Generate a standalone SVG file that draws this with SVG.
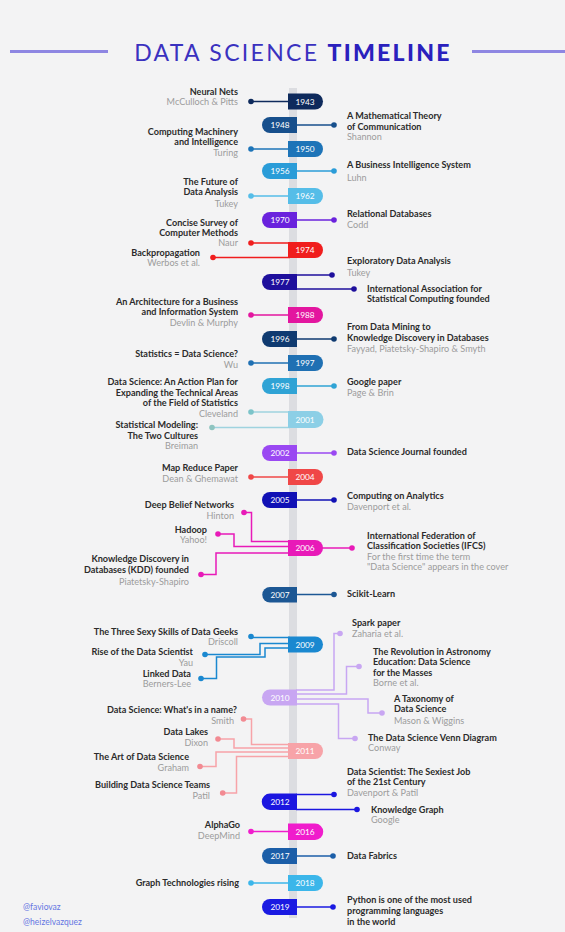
<svg xmlns="http://www.w3.org/2000/svg" width="565" height="932" viewBox="0 0 565 932">
<style>
.bg{fill:#f3f3f4}
.t{font-family:Lato,"Liberation Sans",sans-serif;font-weight:700;font-size:9.1px;fill:#2b2b2b}
.s{font-family:Lato,"Liberation Sans",sans-serif;font-size:9.1px;fill:#9c9c9c}
.l{text-anchor:end}
.y{font-family:Lato,"Liberation Sans",sans-serif;font-size:8.3px;fill:#ffffff;text-anchor:middle}
.c{fill:none;stroke-width:1.5}
.h{font-family:Lato,"Liberation Sans",sans-serif;font-size:8.5px;fill:#6576e2}
</style>
<rect class="bg" x="0" y="0" width="565" height="932"/>
<g id="title">
<line x1="10" y1="51.5" x2="108" y2="51.5" stroke="#8e86e2" stroke-width="3"/>
<line x1="472" y1="51.5" x2="565" y2="51.5" stroke="#8e86e2" stroke-width="3"/>
<text x="293" y="60.5" text-anchor="middle" font-family="Lato,'Liberation Sans',sans-serif" font-size="23" fill="#3a31bf" letter-spacing="2.3"><tspan>DATA SCIENCE </tspan><tspan font-weight="900" fill="#2a20bd">TIMELINE</tspan></text>
</g>
<line id="axis" x1="293" y1="88" x2="293" y2="918" stroke="#dcdde1" stroke-width="8"/>
<g id="connectors">
<path class="c" stroke="#0e2a5c" d="M251,101.5H290"/><circle cx="251" cy="101.5" r="2.8" fill="#0e2a5c"/>
<path class="c" stroke="#174f8c" d="M296,125H334"/><circle cx="334" cy="125" r="2.8" fill="#174f8c"/>
<path class="c" stroke="#1d74b8" d="M251,149H290"/><circle cx="251" cy="149" r="2.8" fill="#1d74b8"/>
<path class="c" stroke="#2a9cd8" d="M296,171H334"/><circle cx="334" cy="171" r="2.8" fill="#2a9cd8"/>
<path class="c" stroke="#55bde8" d="M251,196H290"/><circle cx="251" cy="196" r="2.8" fill="#55bde8"/>
<path class="c" stroke="#6a22dd" d="M296,220H334"/><circle cx="334" cy="220" r="2.8" fill="#6a22dd"/>
<path class="c" stroke="#f01d1d" d="M251,243H290"/><circle cx="251" cy="243" r="2.8" fill="#f01d1d"/>
<path class="c" stroke="#f01d1d" d="M213,257.5H290"/><circle cx="213" cy="257.5" r="2.8" fill="#f01d1d"/>
<path class="c" stroke="#1e0f9c" d="M296,275H332"/><circle cx="332" cy="275" r="2.8" fill="#1e0f9c"/>
<path class="c" stroke="#1e0f9c" d="M296,289H354"/><circle cx="354" cy="289" r="2.8" fill="#1e0f9c"/>
<path class="c" stroke="#e3169f" d="M251,315H290"/><circle cx="251" cy="315" r="2.8" fill="#e3169f"/>
<path class="c" stroke="#0f3a70" d="M296,339H334"/><circle cx="334" cy="339" r="2.8" fill="#0f3a70"/>
<path class="c" stroke="#1f70b3" d="M251,363H290"/><circle cx="251" cy="363" r="2.8" fill="#1f70b3"/>
<path class="c" stroke="#2fa3d5" d="M296,386H334"/><circle cx="334" cy="386" r="2.8" fill="#2fa3d5"/>
<path class="c" stroke="#9fd3df" d="M251,412H290"/><circle cx="251" cy="412" r="2.8" fill="#7cc4c9"/>
<path class="c" stroke="#9fd3df" d="M212,427.5H290"/><circle cx="212" cy="427.5" r="2.8" fill="#8fc4c0"/>
<path class="c" stroke="#9a48f2" d="M296,453H334"/><circle cx="334" cy="453" r="2.8" fill="#9a48f2"/>
<path class="c" stroke="#f04747" d="M251,477H290"/><circle cx="251" cy="477" r="2.8" fill="#f04747"/>
<path class="c" stroke="#1111b5" d="M296,500H334"/><circle cx="334" cy="500" r="2.8" fill="#1111b5"/>
<path class="c" stroke="#e81ab8" d="M244,512.5H251.5V541.5H290"/><circle cx="244" cy="512.5" r="2.8" fill="#e81ab8"/>
<path class="c" stroke="#e81ab8" d="M218,534H234V546.5H290"/><circle cx="218" cy="534" r="2.8" fill="#e81ab8"/>
<path class="c" stroke="#e81ab8" d="M201,574.5H216V553H290"/><circle cx="201" cy="574.5" r="2.8" fill="#e81ab8"/>
<path class="c" stroke="#e81ab8" d="M320,548H352"/><circle cx="352" cy="548" r="2.8" fill="#e81ab8"/>
<path class="c" stroke="#1c5794" d="M296,594.5H334"/><circle cx="334" cy="594.5" r="2.8" fill="#1c5794"/>
<path class="c" stroke="#1a88d0" d="M251,637.5H290"/><circle cx="251" cy="636.5" r="2.8" fill="#1a88d0"/>
<path class="c" stroke="#1a88d0" d="M205,654.5H260V643.5H290"/><circle cx="205" cy="654.5" r="2.8" fill="#1a88d0"/>
<path class="c" stroke="#1a88d0" d="M201,678.5H216.5V657H265V648H290"/><circle cx="201" cy="678.5" r="2.8" fill="#1a88d0"/>
<path class="c" stroke="#c8a6f2" d="M296,690H334V633.5H340"/><circle cx="340" cy="633.5" r="2.8" fill="#c8a6f2"/>
<path class="c" stroke="#c8a6f2" d="M296,694H346.5V666.5H359"/><circle cx="359" cy="666.5" r="2.8" fill="#c8a6f2"/>
<path class="c" stroke="#c8a6f2" d="M296,699H368V713H382"/><circle cx="382" cy="713" r="2.8" fill="#c8a6f2"/>
<path class="c" stroke="#c8a6f2" d="M296,704H338.5V738.5H355"/><circle cx="355" cy="738.5" r="2.8" fill="#c8a6f2"/>
<path class="c" stroke="#f7a3a8" d="M243.5,719H251.5V744.5H290"/><circle cx="243.5" cy="719" r="2.8" fill="#f28a92"/>
<path class="c" stroke="#f7a3a8" d="M218,739H234V748H290"/><circle cx="218" cy="739" r="2.8" fill="#f28a92"/>
<path class="c" stroke="#f7a3a8" d="M200,766.5H216V752H290"/><circle cx="200" cy="766.5" r="2.8" fill="#f28a92"/>
<path class="c" stroke="#f7a3a8" d="M222.7,793H236.5V756.5H290"/><circle cx="222.7" cy="793" r="2.8" fill="#f28a92"/>
<path class="c" stroke="#1b16e0" d="M296,794.5H334"/><circle cx="334" cy="794.5" r="2.8" fill="#1b16e0"/>
<path class="c" stroke="#1b16e0" d="M296,809.5H357"/><circle cx="357" cy="809.5" r="2.8" fill="#1b16e0"/>
<path class="c" stroke="#f01ccc" d="M251,831.5H290"/><circle cx="251" cy="831.5" r="2.8" fill="#f01ccc"/>
<path class="c" stroke="#1b5ea8" d="M296,856H333"/><circle cx="333" cy="856" r="2.8" fill="#1b5ea8"/>
<path class="c" stroke="#3bb6ea" d="M251,883H290"/><circle cx="251" cy="883" r="2.8" fill="#3bb6ea"/>
<path class="c" stroke="#1a1ae2" d="M296,907H333"/><circle cx="333" cy="907" r="2.8" fill="#1a1ae2"/>
</g>
<g id="n1943"><path fill="#0e2a5c" d="M288,93.5h27a8,8 0 0 1 0,16h-27z"/><text class="y" x="305" y="104.5">1943</text>
<text class="t l" x="238" y="95">Neural Nets</text><text class="s l" x="238" y="105">McCulloch &amp; Pitts</text></g>
<g id="n1948"><path fill="#174f8c" d="M297,117h-27a8,8 0 0 0 0,16h27z"/><text class="y" x="280" y="128">1948</text>
<text class="t" x="347" y="119">A Mathematical Theory</text><text class="t" x="347" y="129.5">of Communication</text><text class="s" x="347" y="139.5">Shannon</text></g>
<g id="n1950"><path fill="#1d74b8" d="M288,141h27a8,8 0 0 1 0,16h-27z"/><text class="y" x="305" y="152">1950</text>
<text class="t l" x="238" y="134.5">Computing Machinery</text><text class="t l" x="238" y="145">and Intelligence</text><text class="s l" x="238" y="156">Turing</text></g>
<g id="n1956"><path fill="#2a9cd8" d="M297,163h-27a8,8 0 0 0 0,16h27z"/><text class="y" x="280" y="174">1956</text>
<text class="t" x="347" y="168">A Business Intelligence System</text><text class="s" x="347" y="180.5">Luhn</text></g>
<g id="n1962"><path fill="#55bde8" d="M288,188h27a8,8 0 0 1 0,16h-27z"/><text class="y" x="305" y="199">1962</text>
<text class="t l" x="238" y="184.5">The Future of</text><text class="t l" x="238" y="195">Data Analysis</text><text class="s l" x="238" y="207">Tukey</text></g>
<g id="n1970"><path fill="#6a22dd" d="M297,212h-27a8,8 0 0 0 0,16h27z"/><text class="y" x="280" y="223">1970</text>
<text class="t" x="347" y="217">Relational Databases</text><text class="s" x="347" y="228">Codd</text></g>
<g id="n1974"><path fill="#f01d1d" d="M288,242h27a8,8 0 0 1 0,16h-27z"/><text class="y" x="305" y="253">1974</text>
<text class="t l" x="238" y="226">Concise Survey of</text><text class="t l" x="238" y="236">Computer Methods</text><text class="s l" x="238" y="246">Naur</text>
<text class="t l" x="200" y="255.5">Backpropagation</text><text class="s l" x="200" y="266">Werbos et al.</text></g>
<g id="n1977"><path fill="#1e0f9c" d="M297,274h-27a8,8 0 0 0 0,16h27z"/><text class="y" x="280" y="285">1977</text>
<text class="t" x="347" y="263.5">Exploratory Data Analysis</text><text class="s" x="347" y="275.5">Tukey</text>
<text class="t" x="367" y="292">International Association for</text><text class="t" x="367" y="302">Statistical Computing founded</text></g>
<g id="n1988"><path fill="#e3169f" d="M288,307h27a8,8 0 0 1 0,16h-27z"/><text class="y" x="305" y="318">1988</text>
<text class="t l" x="238" y="304.5">An Architecture for a Business</text><text class="t l" x="238" y="315">and Information System</text><text class="s l" x="238" y="326">Devlin &amp; Murphy</text></g>
<g id="n1996"><path fill="#0f3a70" d="M297,331h-27a8,8 0 0 0 0,16h27z"/><text class="y" x="280" y="342">1996</text>
<text class="t" x="347" y="329.5">From Data Mining to</text><text class="t" x="347" y="341">Knowledge Discovery in Databases</text><text class="s" x="347" y="352">Fayyad, Piatetsky-Shapiro &amp; Smyth</text></g>
<g id="n1997"><path fill="#1f70b3" d="M288,355h27a8,8 0 0 1 0,16h-27z"/><text class="y" x="305" y="366">1997</text>
<text class="t l" x="238" y="357">Statistics = Data Science?</text><text class="s l" x="238" y="368">Wu</text></g>
<g id="n1998"><path fill="#2fa3d5" d="M297,378h-27a8,8 0 0 0 0,16h27z"/><text class="y" x="280" y="389">1998</text>
<text class="t" x="347" y="385">Google paper</text><text class="s" x="347" y="396">Page &amp; Brin</text></g>
<g id="n2001"><path fill="#8ccfe6" d="M288,411h27a8.5,8.5 0 0 1 0,17h-27z"/><text class="y" x="305" y="422.5">2001</text>
<text class="t l" x="238" y="385">Data Science: An Action Plan for</text><text class="t l" x="238" y="395.5">Expanding the Technical Areas</text><text class="t l" x="238" y="405.5">of the Field of Statistics</text><text class="s l" x="238" y="417">Cleveland</text>
<text class="t l" x="198" y="428">Statistical Modeling:</text><text class="t l" x="198" y="438.5">The Two Cultures</text><text class="s l" x="198" y="449">Breiman</text></g>
<g id="n2002"><path fill="#9a48f2" d="M297,445h-27a8,8 0 0 0 0,16h27z"/><text class="y" x="280" y="456">2002</text>
<text class="t" x="347" y="455">Data Science Journal founded</text></g>
<g id="n2004"><path fill="#f04747" d="M288,469h27a8,8 0 0 1 0,16h-27z"/><text class="y" x="305" y="480">2004</text>
<text class="t l" x="238" y="471">Map Reduce Paper</text><text class="s l" x="238" y="482">Dean &amp; Ghemawat</text></g>
<g id="n2005"><path fill="#1111b5" d="M297,492h-27a8,8 0 0 0 0,16h27z"/><text class="y" x="280" y="503">2005</text>
<text class="t" x="347" y="498.5">Computing on Analytics</text><text class="s" x="347" y="509.5">Davenport et al.</text></g>
<g id="n2006"><path fill="#e81ab8" d="M288,540h27a8,8 0 0 1 0,16h-27z"/><text class="y" x="305" y="551">2006</text>
<text class="t l" x="234" y="508">Deep Belief Networks</text><text class="s l" x="234" y="518.5">Hinton</text>
<text class="t l" x="207" y="533">Hadoop</text><text class="s l" x="207" y="543">Yahoo!</text>
<text class="t l" x="189" y="562">Knowledge Discovery in</text><text class="t l" x="189" y="573">Databases (KDD) founded</text><text class="s l" x="189" y="585">Piatetsky-Shapiro</text>
<text class="t" x="367" y="539">International Federation of</text><text class="t" x="367" y="549">Classification Societies (IFCS)</text><text class="s" x="367" y="560">For the first time the term</text><text class="s" x="367" y="570">"Data Science" appears in the cover</text></g>
<g id="n2007"><path fill="#1c5794" d="M297,587h-27a7.75,7.75 0 0 0 0,15.5h27z"/><text class="y" x="280" y="597.5">2007</text>
<text class="t" x="347" y="597">Scikit-Learn</text></g>
<g id="n2009"><path fill="#1a88d0" d="M288,636.5h27a8,8 0 0 1 0,16h-27z"/><text class="y" x="305" y="647.5">2009</text>
<text class="t l" x="238" y="634.5">The Three Sexy Skills of Data Geeks</text><text class="s l" x="238" y="644.5">Driscoll</text>
<text class="t l" x="193" y="655">Rise of the Data Scientist</text><text class="s l" x="193" y="665.5">Yau</text>
<text class="t l" x="191" y="676.5">Linked Data</text><text class="s l" x="191" y="687">Berners-Lee</text></g>
<g id="n2010"><path fill="#c8a6f2" d="M297,689.5h-27a8,8 0 0 0 0,16h27z"/><text class="y" x="280" y="700.5">2010</text>
<text class="t" x="352" y="626">Spark paper</text><text class="s" x="352" y="637">Zaharia et al.</text>
<text class="t" x="373" y="654.5">The Revolution in Astronomy</text><text class="t" x="373" y="665">Education: Data Science</text><text class="t" x="373" y="675.5">for the Masses</text><text class="s" x="373" y="686">Borne et al.</text>
<text class="t" x="394" y="702">A Taxonomy of</text><text class="t" x="394" y="712">Data Science</text><text class="s" x="394" y="724">Mason &amp; Wiggins</text>
<text class="t" x="368" y="740.5">The Data Science Venn Diagram</text><text class="s" x="368" y="750.5">Conway</text></g>
<g id="n2011"><path fill="#f7a3a8" d="M288,743h27a8,8 0 0 1 0,16h-27z"/><text class="y" x="305" y="754">2011</text>
<text class="t l" x="237" y="712.5">Data Science:  What's in a name?</text><text class="s l" x="234" y="723.5">Smith</text>
<text class="t l" x="208" y="735">Data Lakes</text><text class="s l" x="208" y="746">Dixon</text>
<text class="t l" x="189" y="760">The Art of Data Science</text><text class="s l" x="189" y="771">Graham</text>
<text class="t l" x="210" y="788">Building Data Science Teams</text><text class="s l" x="210" y="798.5">Patil</text></g>
<g id="n2012"><path fill="#1b16e0" d="M297,793.5h-27a8.25,8.25 0 0 0 0,16.5h27z"/><text class="y" x="280" y="805">2012</text>
<text class="t" x="347" y="774.5">Data Scientist: The Sexiest Job</text><text class="t" x="347" y="784.5">of the 21st Century</text><text class="s" x="347" y="796">Davenport &amp; Patil</text>
<text class="t" x="371" y="813">Knowledge Graph</text><text class="s" x="371" y="823">Google</text></g>
<g id="n2016"><path fill="#f01ccc" d="M288,823.5h27a8.25,8.25 0 0 1 0,16.5h-27z"/><text class="y" x="305" y="834.5">2016</text>
<text class="t l" x="240" y="828">AlphaGo</text><text class="s l" x="240" y="838.5">DeepMind</text></g>
<g id="n2017"><path fill="#1b5ea8" d="M297,848h-27a8,8 0 0 0 0,16h27z"/><text class="y" x="280" y="859">2017</text>
<text class="t" x="347" y="858.5">Data Fabrics</text></g>
<g id="n2018"><path fill="#3bb6ea" d="M288,875h27a8,8 0 0 1 0,16h-27z"/><text class="y" x="305" y="886">2018</text>
<text class="t l" x="239" y="886">Graph Technologies rising</text></g>
<g id="n2019"><path fill="#1a1ae2" d="M297,899h-27a8,8 0 0 0 0,16h27z"/><text class="y" x="280" y="910">2019</text>
<text class="t" x="347" y="902.5">Python is one of the most used</text><text class="t" x="347" y="913.5">programming languages</text><text class="t" x="347" y="924.5">in the world</text></g>
<g id="credits"><text class="h" x="23" y="910">@faviovaz</text><text class="h" x="23" y="925">@heizelvazquez</text></g>
</svg>
